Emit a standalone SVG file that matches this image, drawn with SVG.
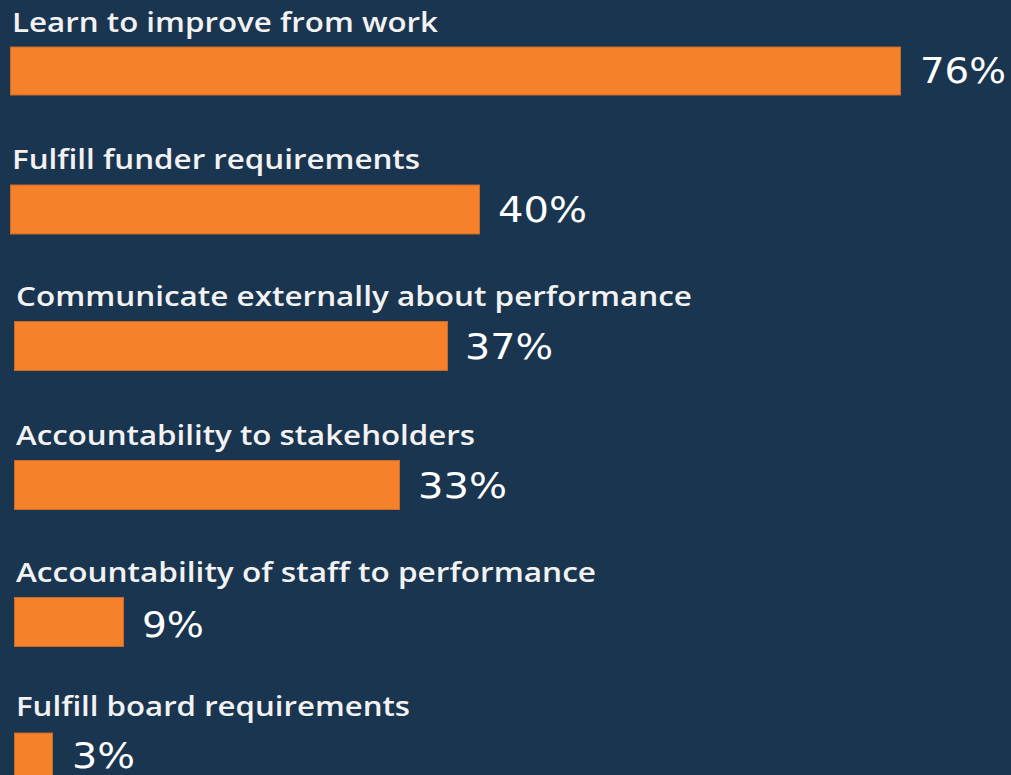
<svg xmlns="http://www.w3.org/2000/svg" width="1011" height="775" viewBox="0 0 1011 775">
<style>
.bg{fill:#1a3550}
.bar{fill:#f5822a;stroke:#c9692a;stroke-width:1}
.lbl{font-family:"Open Sans","Noto Sans",sans-serif;font-size:27px;font-weight:600;fill:#f2f2f2}
.val{font-family:"DejaVu Sans","Noto Sans",sans-serif;font-size:35px;font-weight:500;fill:#ffffff}
</style>
<rect class="bg" x="0" y="0" width="1011" height="775"/>
<g id="row1">
<text class="lbl" x="12" y="31.5" textLength="426" lengthAdjust="spacingAndGlyphs">Learn to improve from work</text>
<rect class="bar" x="10.5" y="47" width="890" height="48"/>
<text class="val" x="920" y="83" textLength="86" lengthAdjust="spacingAndGlyphs">76%</text>
</g>
<g id="row2">
<text class="lbl" x="12" y="169" textLength="408" lengthAdjust="spacingAndGlyphs">Fulfill funder requirements</text>
<rect class="bar" x="10.5" y="185" width="469" height="49"/>
<text class="val" x="498" y="221.5" textLength="89" lengthAdjust="spacingAndGlyphs">40%</text>
</g>
<g id="row3">
<text class="lbl" x="16" y="306" textLength="676" lengthAdjust="spacingAndGlyphs">Communicate externally about performance</text>
<rect class="bar" x="14.5" y="321.5" width="433" height="49"/>
<text class="val" x="465" y="358.5" textLength="88" lengthAdjust="spacingAndGlyphs">37%</text>
</g>
<g id="row4">
<text class="lbl" x="16" y="444.5" textLength="459" lengthAdjust="spacingAndGlyphs">Accountability to stakeholders</text>
<rect class="bar" x="14.5" y="460.5" width="385" height="49"/>
<text class="val" x="418" y="497.5" textLength="89" lengthAdjust="spacingAndGlyphs">33%</text>
</g>
<g id="row5">
<text class="lbl" x="16" y="582" textLength="580" lengthAdjust="spacingAndGlyphs">Accountability of staff to performance</text>
<rect class="bar" x="14.5" y="597.5" width="109" height="49"/>
<text class="val" x="142" y="637" textLength="62" lengthAdjust="spacingAndGlyphs">9%</text>
</g>
<g id="row6">
<text class="lbl" x="16" y="715.5" textLength="394" lengthAdjust="spacingAndGlyphs">Fulfill board requirements</text>
<rect class="bar" x="14.5" y="733" width="38" height="50"/>
<text class="val" x="72" y="768" textLength="63" lengthAdjust="spacingAndGlyphs">3%</text>
</g>
</svg>
